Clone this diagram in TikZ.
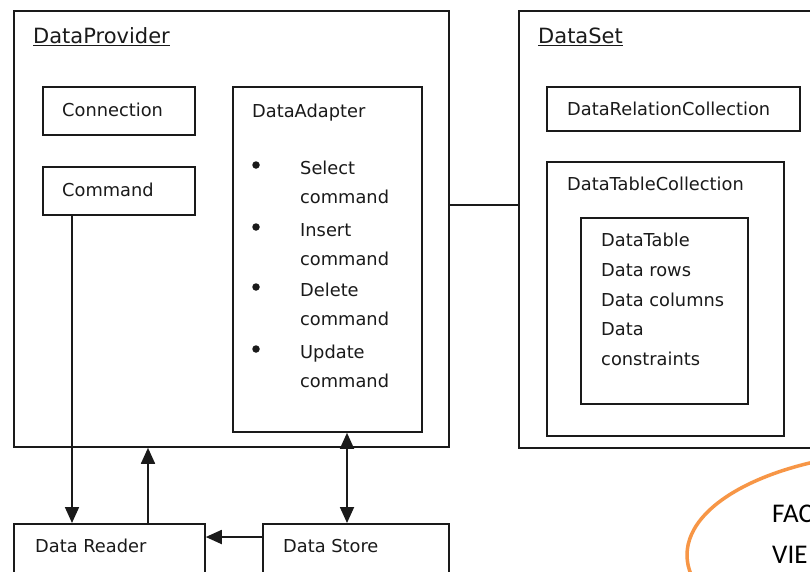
\documentclass[tikz,border=0pt]{standalone}
\usepackage{fontspec}
\setmainfont{DejaVu Sans}
\newfontfamily\notefont{Carlito}
\usetikzlibrary{arrows.meta,shapes.geometric}
\definecolor{ink}{HTML}{1A1A1A}
\definecolor{noteorange}{HTML}{F79646}

\begin{document}
\begin{tikzpicture}[x=1pt,y=-1pt,
  box/.style={draw=ink,line width=1.8pt,rectangle,inner sep=0pt,anchor=north west},
  txt/.style={anchor=base west,inner sep=0pt,text=ink,font=\fontsize{17.8}{20}\selectfont},
  ttl/.style={anchor=base west,inner sep=0pt,text=ink,font=\fontsize{21}{24}\selectfont},
  bullet/.style={circle,fill=ink,inner sep=0pt,minimum size=7.5pt},
  arr/.style={draw=ink,line width=1.8pt,arrows={-Triangle[length=16pt,width=14pt]}},
  dblarr/.style={draw=ink,line width=1.8pt,arrows={Triangle[length=16pt,width=14pt]-Triangle[length=16pt,width=14pt]}},
  link/.style={draw=ink,line width=1.8pt},
  note/.style={ellipse,draw=noteorange,line width=3.5pt,inner sep=0pt},
  notetxt/.style={anchor=base west,inner sep=0pt,text=black,font=\notefont\fontsize{27}{32}\selectfont}]

\useasboundingbox (0,0) rectangle (810,571);
\clip (0,0) rectangle (810,571);
\fill[white] (0,0) rectangle (810,571);

% data provider side
\node[box,minimum width=435pt,minimum height=436pt] (dp) at (13,10) {};
\node[ttl] (dptitle) at (33,43) {\underline{DataProvider}};
\node[box,minimum width=152pt,minimum height=48pt] (conn) at (42,86) {};
\node[txt] (conntxt) at (62,116) {Connection};
\node[box,minimum width=152pt,minimum height=48pt] (cmd) at (42,166) {};
\node[txt] (cmdtxt) at (62,196) {Command};
\node[box,minimum width=189pt,minimum height=345pt] (da) at (232,86) {};
\node[txt] (datxt) at (252,117) {DataAdapter};

\node[bullet] (b1) at (256,165) {};
\node[txt] (s1) at (300,174) {Select};
\node[txt] (s2) at (300,203.5) {command};
\node[bullet] (b2) at (256,227) {};
\node[txt] (i1) at (300,236) {Insert};
\node[txt] (i2) at (300,265.5) {command};
\node[bullet] (b3) at (256,287) {};
\node[txt] (d1) at (300,296) {Delete};
\node[txt] (d2) at (300,325.5) {command};
\node[bullet] (b4) at (256,349) {};
\node[txt] (u1) at (300,358) {Update};
\node[txt] (u2) at (300,387.5) {command};

% data set side
\node[box,minimum width=320pt,minimum height=437pt] (ds) at (518,10) {};
\node[ttl] (dstitle) at (538,43) {\underline{DataSet}};
\node[box,minimum width=253pt,minimum height=44pt] (drc) at (546,86) {};
\node[txt] (drctxt) at (567,115) {DataRelationCollection};
\node[box,minimum width=237pt,minimum height=274pt] (dtc) at (546,161) {};
\node[txt] (dtctxt) at (567,190) {DataTableCollection};
\node[box,minimum width=167pt,minimum height=186pt] (dt) at (580,217) {};
\node[txt] (t1) at (601,246) {DataTable};
\node[txt] (t2) at (601,276) {Data rows};
\node[txt] (t3) at (601,306) {Data columns};
\node[txt] (t4) at (601,335.5) {Data};
\node[txt] (t5) at (601,365) {constraints};

% readers and store
\node[box,minimum width=191pt,minimum height=70pt] (reader) at (13,523) {};
\node[txt] (readertxt) at (35,552) {Data Reader};
\node[box,minimum width=186pt,minimum height=70pt] (store) at (262,523) {};
\node[txt] (storetxt) at (283,552) {Data Store};

% connectors
\draw[link] ([yshift=-195pt]dp.north east) -- ([yshift=-195pt]ds.north west);
\draw[arr] ([xshift=30pt]cmd.south west) -- ([xshift=30pt]cmd.south west |- reader.north);
\draw[arr] ([xshift=135pt]reader.north west) -- ([xshift=135pt]reader.north west |- dp.south);
\draw[dblarr] ([xshift=115pt]da.south west) -- ([xshift=115pt]da.south west |- store.north);
\draw[arr] ([yshift=-14pt]store.north west) -- ([yshift=-14pt]store.north west -| reader.east);

% note callout
\node[note,minimum width=460pt,minimum height=208pt] (callout) at (917,555) {};
\node[notetxt] (n1) at (772,522) {FAC};
\node[notetxt] (n2) at (772,563) {VIE};
\end{tikzpicture}
\end{document}
